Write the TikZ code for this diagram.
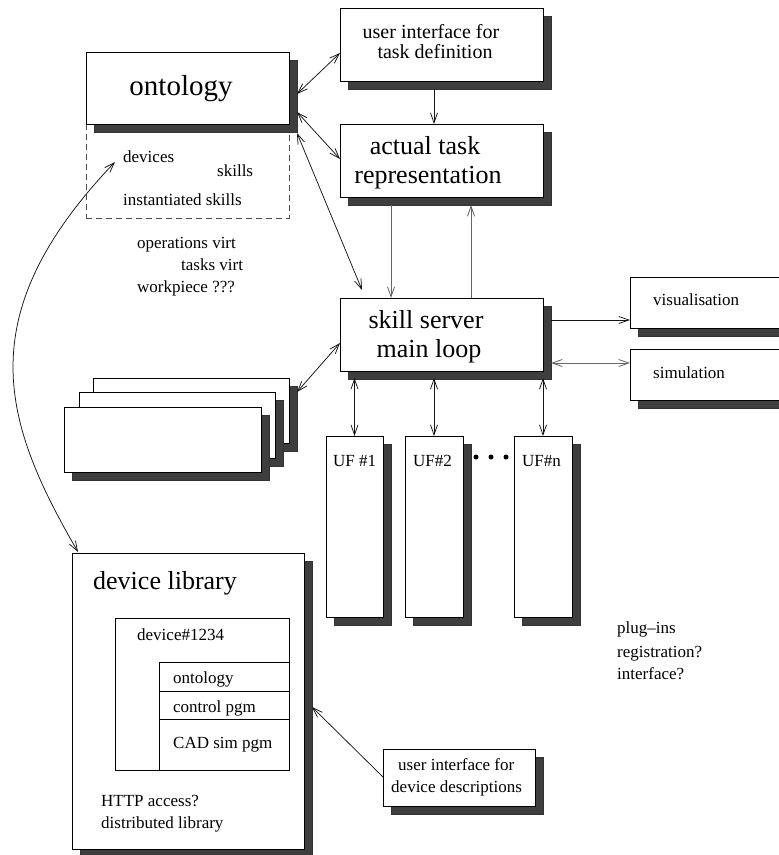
\documentclass[tikz,border=0pt]{standalone}
\usepackage{fontspec}
\setmainfont{Liberation Serif}
\usetikzlibrary{arrows.meta,shadows,calc}
\definecolor{shade}{RGB}{62,62,62}
\definecolor{lnk}{RGB}{20,20,20}
\newcommand\txtS{\fontsize{17}{22}\selectfont}
\newcommand\txtM{\fontsize{20}{22}\selectfont}
\newcommand\txtL{\fontsize{26}{29}\selectfont}
\newcommand\txtXL{\fontsize{29}{32}\selectfont}
% box from (x1,y1) to (x2,y2), pixel-like units, y pointing down
\newcommand\boxnode[6]{\node[#1, minimum width={#4-#2}, minimum height={#5-#3}] (#6) at (#2,#3) {};}
\begin{document}
\begin{tikzpicture}[x=1pt,y=-1pt,
  box/.style={draw=black, fill=white, line width=0.8pt, anchor=north west, inner sep=0pt, outer sep=0pt},
  shbox/.style={box, drop shadow={shadow xshift=8pt, shadow yshift=-8pt, fill=shade, draw=black!80, opacity=1}},
  conn/.style={draw=lnk, line width=0.75pt},
  conng/.style={draw=black!60, line width=0.85pt},
  tip/.style={-{Straight Barb[length=10pt,width=7pt]}},
  tips/.style={{Straight Barb[length=10pt,width=7pt]}-{Straight Barb[length=10pt,width=7pt]}},
  lbl/.style={inner sep=0pt, anchor=base west, font=\txtS},
  lblc/.style={inner sep=0pt, anchor=base},
  dot/.style={circle, fill=black, inner sep=0pt, minimum size=5pt}
]
\useasboundingbox (0,0) rectangle (779,855);

% ontology with its dashed detail area
\node[draw=black!70, dashed, dash pattern=on 6pt off 4pt, line width=0.7pt, anchor=north west, inner sep=0pt,
      minimum width=203, minimum height=94] (ontodetail) at (86,124) {};
\boxnode{shbox}{86}{52}{289}{124}{onto}
\node[lblc, font=\txtXL] (ontotxt) at (181,95) {ontology};
\node[lbl] (tdev) at (123,162) {devices};
\node[lbl] (tskills) at (217,176) {skills};
\node[lbl] (tinst) at (123,205) {instantiated skills};
\node[lbl] (tops) at (137,248) {operations virt};
\node[lbl] (ttasks) at (181,270) {tasks virt};
\node[lbl] (twork) at (137,292) {workpiece ???};

% task definition and representation
\boxnode{shbox}{340}{8}{543}{81}{uitask}
\node[lblc, font=\txtM] (uitask1) at (431,38) {user interface for};
\node[lblc, font=\txtM] (uitask2) at (435,58) {task definition};
\boxnode{shbox}{340}{124}{543}{197}{actual}
\node[lblc, font=\txtL] (actual1) at (425,154) {actual task};
\node[lblc, font=\txtL] (actual2) at (428,183) {representation};

% skill server
\boxnode{shbox}{340}{298}{543}{371}{skill}
\node[lblc, font=\txtL] (skill1) at (426,328) {skill server};
\node[lblc, font=\txtL] (skill2) at (429,357) {main loop};

% visualisation and simulation
\boxnode{shbox}{630}{277}{800}{328}{vis}
\node[lbl] (vistxt) at (653,305) {visualisation};
\boxnode{shbox}{630}{349}{800}{400}{sim}
\node[lbl] (simtxt) at (653,378) {simulation};

% stack of blank boxes
\boxnode{shbox}{93}{378}{289}{443}{stackA}
\boxnode{shbox}{79}{392}{275}{458}{stackB}
\boxnode{shbox}{64}{407}{261}{472}{stackC}

% user functions
\boxnode{shbox}{326}{436}{383}{617}{uf1}
\boxnode{shbox}{405}{436}{463}{617}{uf2}
\boxnode{shbox}{514}{436}{572}{617}{ufn}
\node[lbl] (uf1txt) at (333,466) {UF \#1};
\node[lbl] (uf2txt) at (413,466) {UF\#2};
\node[lbl] (ufntxt) at (522,466) {UF\#n};
\node[dot] (dot1) at (476,457) {};
\node[dot] (dot2) at (491,457) {};
\node[dot] (dot3) at (506,457) {};

\node[lbl] (plug1) at (617,633) {plug–ins};
\node[lbl] (plug2) at (617,657) {registration?};
\node[lbl] (plug3) at (617,679) {interface?};

% device library
\boxnode{shbox}{72}{553}{304}{849}{devlib}
\node[lbl, font=\txtL] (devlibtxt) at (93,589) {device library};
\boxnode{box}{115}{618}{289}{770}{dev}
\node[lbl] (devtxt) at (137,640) {device\#1234};
\boxnode{box}{159}{662}{289}{691}{devonto}
\boxnode{box}{159}{691}{289}{719}{devctrl}
\boxnode{box}{159}{719}{289}{770}{devcad}
\node[lbl] (devontotxt) at (173,683) {ontology};
\node[lbl] (devctrltxt) at (173,712) {control pgm};
\node[lbl] (devcadtxt) at (173,748) {CAD sim pgm};
\node[lbl] (http) at (101,806) {HTTP access?};
\node[lbl] (distr) at (101,828) {distributed library};

\boxnode{shbox}{383}{749}{535}{806}{uidev}
\node[lbl] (uidev1) at (398,770) {user interface for};
\node[lbl] (uidev2) at (391,792) {device descriptions};

% connectors
\draw[conn, tips] ($(onto.north east)+(8,42)$) -- ($(uitask.north west)+(0,45)$);
\draw[conn, tips] ($(onto.north east)+(8,60)$) -- ($(actual.north west)+(0,35)$);
\draw[conn, tips] ($(onto.north east)+(8,81)$) -- ($(skill.north west)+(22,-8)$);
\draw[conn, tip] ($(uitask.south)+(-7.5,8)$) -- ($(actual.north)+(-7.5,0)$);
\draw[conng, tip] ($(actual.south west)+(51,8)$) -- ($(skill.north west)+(51,0)$);
\draw[conng, tip] ($(skill.north west)+(131,0)$) -- ($(actual.south west)+(131,8)$);
\draw[conn, tip] ($(skill.north east)+(8,22)$) -- ($(vis.north west)+(0,43)$);
\draw[conng, tips] ($(skill.north east)+(8,65)$) -- ($(sim.north west)+(0,14)$);
\draw[conn, tips] ($(skill.north west)+(0,45)$) -- ($(stackA.north east)+(8,14)$);
\draw[conn, tips] (uf1.north) -- ($(uf1.north)+(0,-58)$);
\draw[conn, tips] (uf2.north) -- ($(uf2.north)+(0,-58)$);
\draw[conn, tips] (ufn.north) -- ($(ufn.north)+(0,-58)$);
\draw[conn, tips] ($(ontodetail.north west)+(29,38)$) .. controls (-33,317) and (4,424) .. ($(devlib.north west)+(6,-1)$);
\draw[conn, tip] ($(uidev.north west)+(0,28)$) -- ($(devlib.north east)+(8,154)$);
\end{tikzpicture}
\end{document}
